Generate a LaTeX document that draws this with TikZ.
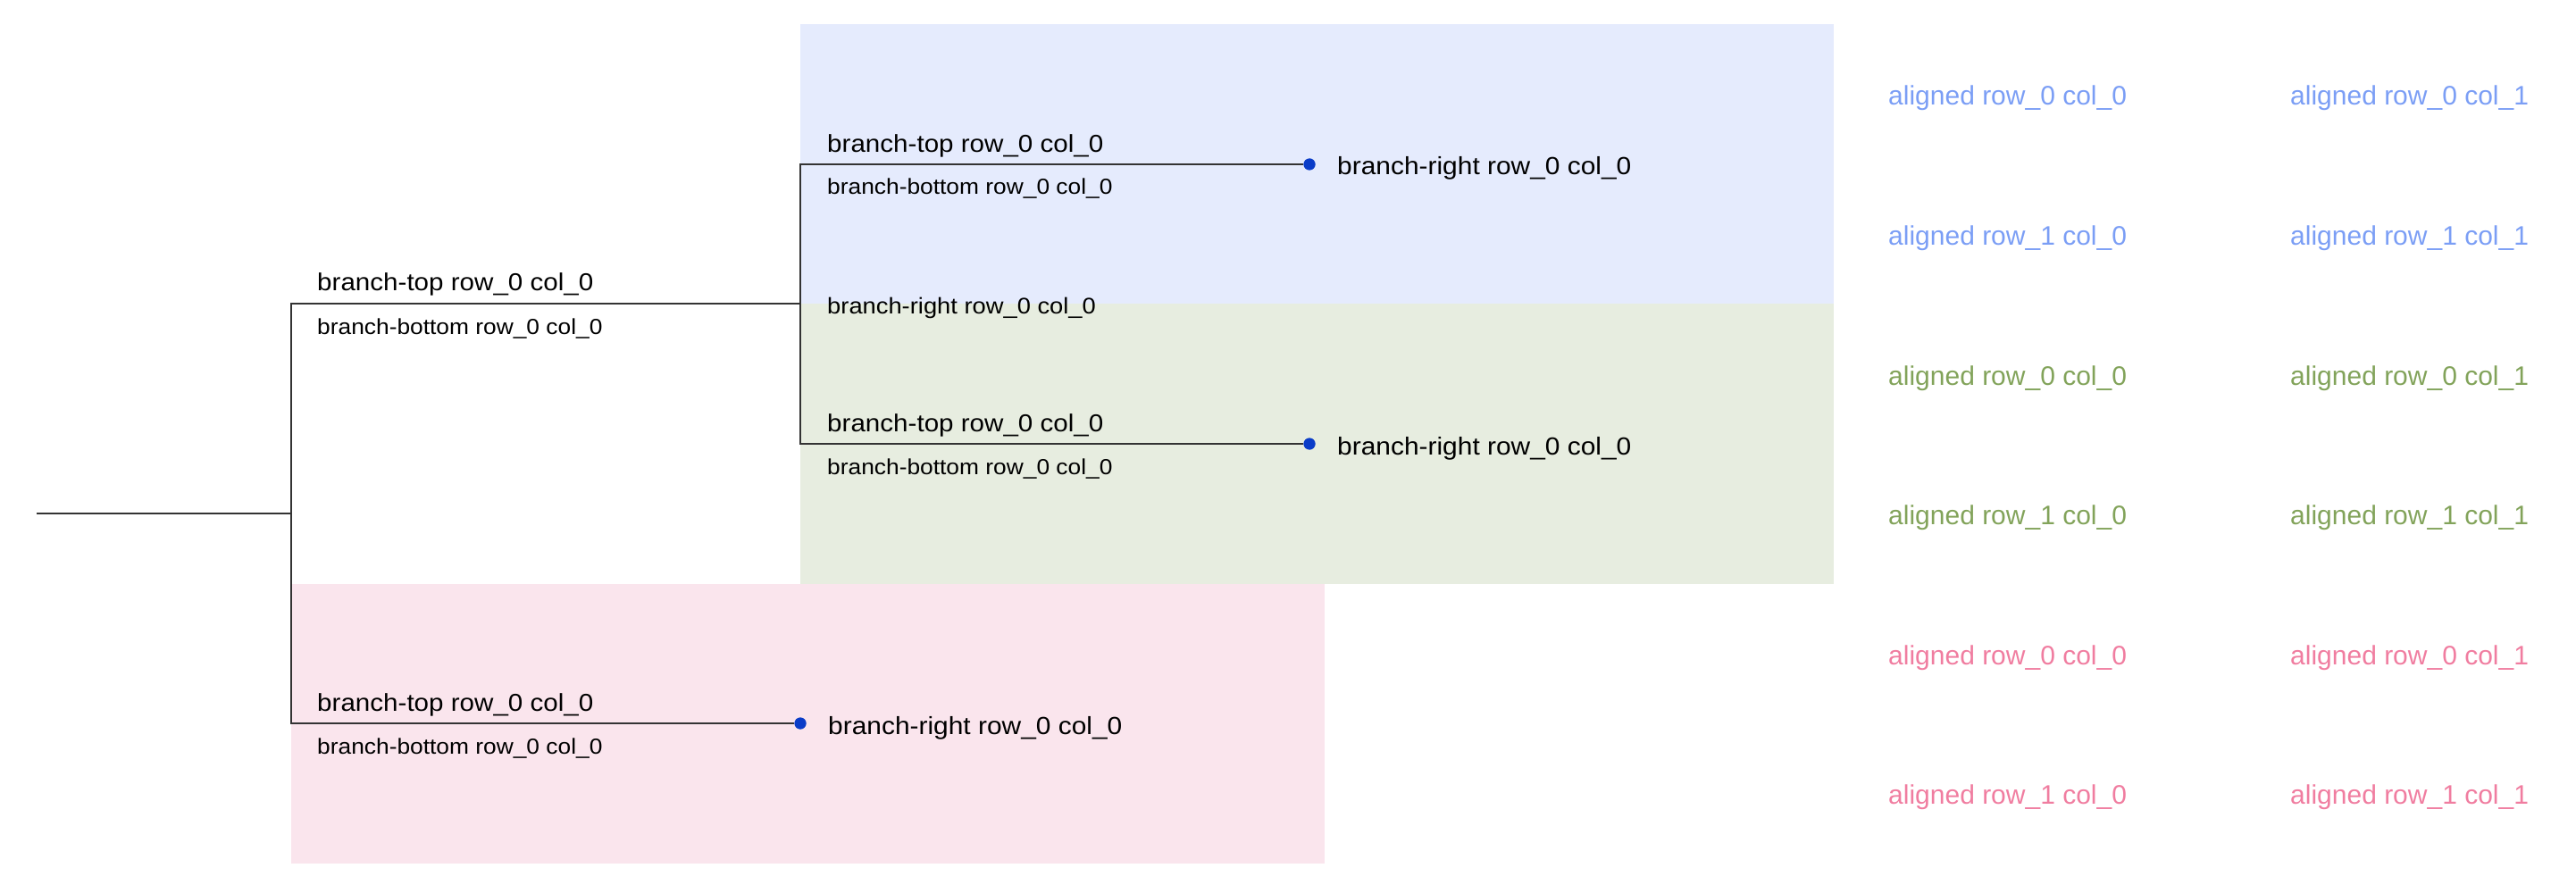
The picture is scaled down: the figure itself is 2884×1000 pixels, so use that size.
\documentclass[tikz,border=0pt]{standalone}
\usepackage{fontspec}
\setmainfont{Liberation Sans}
\newfontfamily\labelfont[FakeStretch=1.08]{Liberation Sans}

\definecolor{edgegray}{HTML}{333333}
\definecolor{dotblue}{HTML}{0A3CC8}
\definecolor{fillblue}{HTML}{E5EBFD}
\definecolor{fillgreen}{HTML}{E7EDE0}
\definecolor{fillpink}{HTML}{FAE5ED}
\definecolor{txtblue}{HTML}{7B9EF5}
\definecolor{txtgreen}{HTML}{82A35A}
\definecolor{txtpink}{HTML}{F07DA0}

\tikzset{
  edge/.style={draw=edgegray, line width=1.6pt},
  leafdot/.style={circle, fill=dotblue, inner sep=0pt, minimum size=13pt},
  lbl/.style={anchor=base west, inner sep=0pt, text=black},
  toplabel/.style={lbl, font=\labelfont\fontsize{27.4}{30}\selectfont},
  botlabel/.style={lbl, font=\labelfont\fontsize{24.4}{28}\selectfont},
  midlabel/.style={lbl, font=\labelfont\fontsize{25.3}{28}\selectfont},
  rightlabel/.style={lbl, font=\labelfont\fontsize{27.7}{30}\selectfont},
  aligned/.style={anchor=base west, inner sep=0pt, font=\fontsize{30}{34}\selectfont}
}

\begin{document}
\begin{tikzpicture}[x=1pt, y=-1pt]
  \useasboundingbox (0,0) rectangle (2884,1000);

  % group backgrounds
  \fill[fillblue]  (896,27)  rectangle (2053,340);
  \fill[fillgreen] (896,340) rectangle (2053,654);
  \fill[fillpink]  (326,654) rectangle (1483,967);

  % tree junctions and leaves
  \coordinate (root) at (41,575);
  \coordinate (j0) at (326,575);
  \coordinate (j1) at (896,340);
  \node[leafdot] (leafA) at (1466,184) {};
  \node[leafdot] (leafB) at (1466,497) {};
  \node[leafdot] (leafC) at (896,810) {};

  % connectors
  \draw[edge] (root) -- (j0);
  \draw[edge] (j0) |- (j1);
  \draw[edge] (j0) |- (leafC);
  \draw[edge] (j1) |- (leafA);
  \draw[edge] (j1) |- (leafB);

  % redraw leaves over line ends
  \node[leafdot] at (leafA) {};
  \node[leafdot] at (leafB) {};
  \node[leafdot] at (leafC) {};

  % first-level upper branch
  \node[toplabel] (t1) at (355,326) {branch-top row\_0 col\_0};
  \node[botlabel] (b1) at (355,374) {branch-bottom row\_0 col\_0};
  \node[midlabel] (r1) at (926,352) {branch-right row\_0 col\_0};

  % second-level upper branch
  \node[toplabel] (t2) at (926,170.5) {branch-top row\_0 col\_0};
  \node[botlabel] (b2) at (926,218) {branch-bottom row\_0 col\_0};
  \node[rightlabel] (r2) at (1497,196) {branch-right row\_0 col\_0};

  % second-level lower branch
  \node[toplabel] (t3) at (926,483.5) {branch-top row\_0 col\_0};
  \node[botlabel] (b3) at (926,531) {branch-bottom row\_0 col\_0};
  \node[rightlabel] (r3) at (1497,509) {branch-right row\_0 col\_0};

  % first-level lower branch
  \node[toplabel] (t4) at (355,796.5) {branch-top row\_0 col\_0};
  \node[botlabel] (b4) at (355,844) {branch-bottom row\_0 col\_0};
  \node[rightlabel] (r4) at (927,822) {branch-right row\_0 col\_0};

  % aligned columns
  \node[aligned, text=txtblue]  (a00) at (2114,118)   {aligned row\_0 col\_0};
  \node[aligned, text=txtblue]  (a01) at (2564,118)   {aligned row\_0 col\_1};
  \node[aligned, text=txtblue]  (a10) at (2114,274.5) {aligned row\_1 col\_0};
  \node[aligned, text=txtblue]  (a11) at (2564,274.5) {aligned row\_1 col\_1};
  \node[aligned, text=txtgreen] (a20) at (2114,431)   {aligned row\_0 col\_0};
  \node[aligned, text=txtgreen] (a21) at (2564,431)   {aligned row\_0 col\_1};
  \node[aligned, text=txtgreen] (a30) at (2114,587.5) {aligned row\_1 col\_0};
  \node[aligned, text=txtgreen] (a31) at (2564,587.5) {aligned row\_1 col\_1};
  \node[aligned, text=txtpink]  (a40) at (2114,744)   {aligned row\_0 col\_0};
  \node[aligned, text=txtpink]  (a41) at (2564,744)   {aligned row\_0 col\_1};
  \node[aligned, text=txtpink]  (a50) at (2114,900.5) {aligned row\_1 col\_0};
  \node[aligned, text=txtpink]  (a51) at (2564,900.5) {aligned row\_1 col\_1};
\end{tikzpicture}
\end{document}
